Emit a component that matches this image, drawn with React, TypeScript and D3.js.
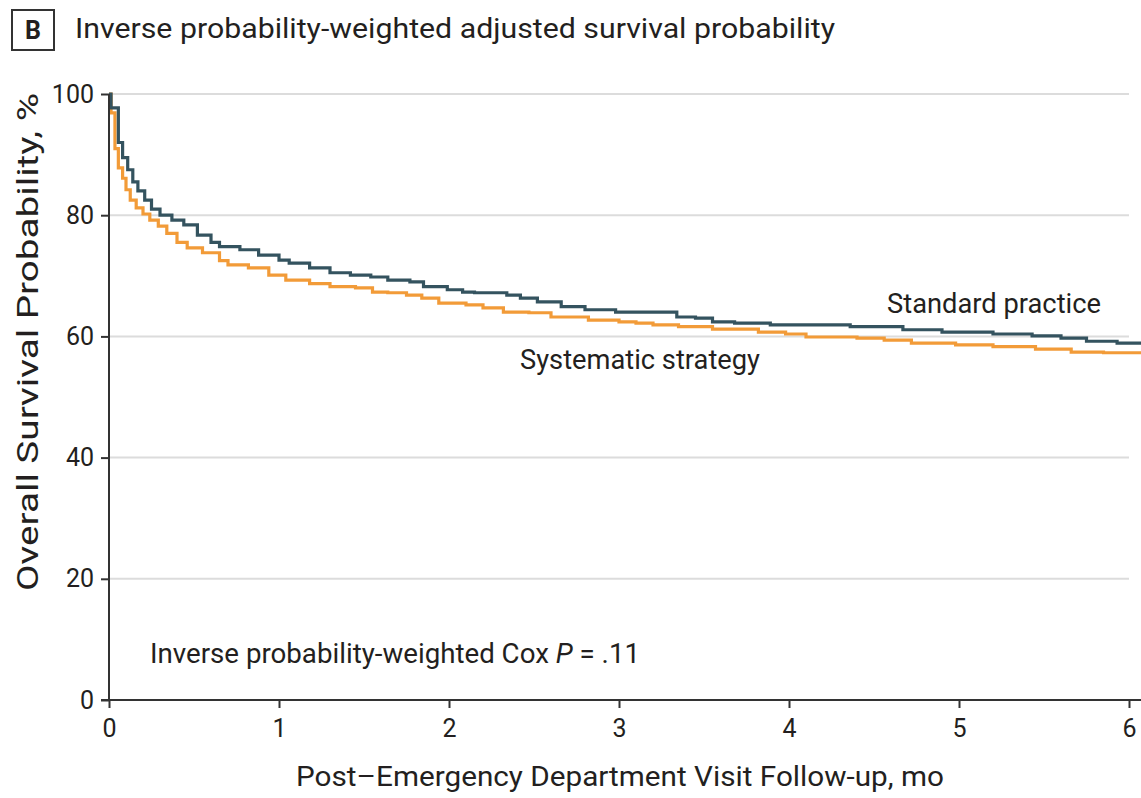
import * as d3 from "d3";
import React, { useEffect, useRef } from "react";

// 月数（追跡期間）と生存確率（%）
const standardTimes = [0, 0.012, 0.055, 0.08, 0.11, 0.14, 0.17, 0.21, 0.25, 0.3, 0.37, 0.44, 0.52, 0.6, 0.65, 0.77, 0.88, 1.0, 1.06, 1.18, 1.3, 1.42, 1.54, 1.64, 1.77, 1.85, 1.99, 2.08, 2.15, 2.34, 2.42, 2.52, 2.66, 2.8, 2.98, 3.34, 3.45, 3.55, 3.68, 3.89, 4.36, 4.67, 4.9, 5.2, 5.43, 5.6, 5.75, 5.93, 6.1];
const standardValues = [100, 97.7, 92, 89.5, 87.5, 85.5, 84, 82.5, 81, 80, 79.2, 78.4, 76.7, 75.5, 74.8, 74.3, 73.4, 72.6, 72.1, 71.3, 70.5, 70.1, 69.8, 69.3, 69, 68.2, 67.7, 67.3, 67.2, 66.8, 66.3, 65.7, 64.9, 64.4, 64, 63.2, 63, 62.4, 62.2, 61.9, 61.6, 61.1, 60.7, 60.4, 60.1, 59.7, 59.2, 58.9, 58.9];

const systematicTimes = [0, 0.012, 0.035, 0.055, 0.08, 0.1, 0.125, 0.16, 0.2, 0.24, 0.29, 0.34, 0.4, 0.46, 0.55, 0.65, 0.7, 0.82, 0.94, 1.04, 1.18, 1.3, 1.45, 1.55, 1.64, 1.75, 1.84, 1.94, 2.1, 2.2, 2.32, 2.47, 2.6, 2.82, 3.0, 3.1, 3.2, 3.35, 3.55, 3.82, 3.98, 4.1, 4.4, 4.56, 4.72, 4.98, 5.2, 5.45, 5.66, 5.85, 6.1];
const systematicValues = [100, 96.9, 91, 87.8, 86.1, 84.2, 82.5, 81.2, 80.2, 79.2, 78.2, 77, 75.5, 74.6, 73.8, 72.5, 71.8, 71.3, 70.1, 69.3, 68.7, 68.2, 68, 67.3, 67.2, 66.8, 66.3, 65.5, 65.2, 64.7, 64, 63.9, 63.2, 62.7, 62.4, 62.2, 61.9, 61.6, 61.2, 60.7, 60.4, 59.9, 59.7, 59.4, 58.9, 58.6, 58.3, 57.9, 57.4, 57.3, 57.2];

const xTicks = [0, 1, 2, 3, 4, 5, 6];
const yTicks = [0, 20, 40, 60, 80, 100];

const FONT = "Roboto, 'Noto Sans', sans-serif";
const TEXT_COLOR = "#231f20";

export default function App() {
  const svgRef = useRef<SVGSVGElement>(null);
  // 2重のレンダリングを防止
  const isRender = useRef(false);

  useEffect(() => {
    if (isRender.current || !svgRef.current) return;
    isRender.current = true;

    const width = 1141;
    const height = 798;
    const svg = d3.select(svgRef.current).attr("width", width).attr("height", height);

    const x = d3.scaleLinear().domain([0, 6]).range([109, 1129]);
    const y = d3.scaleLinear().domain([0, 100]).range([700, 94]);

    // グリッド線
    svg.append("g")
      .selectAll("line")
      .data(yTicks.filter((d) => d > 0))
      .enter()
      .append("line")
      .attr("x1", x(0))
      .attr("x2", x(6))
      .attr("y1", (d) => y(d))
      .attr("y2", (d) => y(d))
      .style("stroke", "#dcdcdc")
      .style("stroke-width", 2);

    // 生存曲線
    const line = d3.line<[number, number]>()
      .x((d) => x(d[0]))
      .y((d) => y(d[1]))
      .curve(d3.curveStepAfter);

    const series = [
      { times: systematicTimes, values: systematicValues, color: "#f29b38" },
      { times: standardTimes, values: standardValues, color: "#34535f" },
    ];
    series.forEach((s) => {
      const pts: [number, number][] = s.times.map((t, i) => [t, s.values[i]]);
      svg.append("path")
        .attr("d", line(pts))
        .style("fill", "none")
        .style("stroke", s.color)
        .style("stroke-width", 3.2);
    });

    // 軸
    const axisColor = "#333";
    const yAxis = svg.append("g").attr("transform", `translate(${x(0)},0)`)
      .call(d3.axisLeft(y).tickValues(yTicks).tickFormat(d3.format("d")).tickSize(8).tickSizeOuter(0).tickPadding(7));
    const xAxis = svg.append("g").attr("transform", `translate(0,${y(0)})`)
      .call(d3.axisBottom(x).tickValues(xTicks).tickFormat(d3.format("d")).tickSize(8).tickSizeOuter(0).tickPadding(11));
    [xAxis, yAxis].forEach((g) => {
      g.select(".domain").style("stroke", axisColor).style("stroke-width", 2);
      g.selectAll(".tick line").style("stroke", axisColor).style("stroke-width", 2);
      g.selectAll(".tick text")
        .style("font-family", FONT)
        .style("font-size", "25px")
        .style("fill", TEXT_COLOR);
    });
    // x軸は画像の右端まで伸ばす
    xAxis.select(".domain").attr("d", `M${x(0) - 8},0H${width}`);
    yAxis.select(".domain").attr("d", `M0,${y(100)}V${y(0)}`);

    // 軸タイトル
    svg.append("text")
      .attr("x", 620)
      .attr("y", 786)
      .attr("text-anchor", "middle")
      .attr("textLength", 648)
      .attr("lengthAdjust", "spacingAndGlyphs")
      .style("font-family", FONT)
      .style("font-size", "27px")
      .style("fill", TEXT_COLOR)
      .text("Post–Emergency Department Visit Follow-up, mo");

    svg.append("text")
      .attr("transform", "translate(38,342) rotate(-90)")
      .attr("text-anchor", "middle")
      .attr("textLength", 498)
      .attr("lengthAdjust", "spacingAndGlyphs")
      .style("font-family", FONT)
      .style("font-size", "29px")
      .style("fill", TEXT_COLOR)
      .text("Overall Survival Probability, %");

    // パネル見出し
    svg.append("rect")
      .attr("x", 12)
      .attr("y", 10)
      .attr("width", 42)
      .attr("height", 40)
      .style("fill", "none")
      .style("stroke", "#333")
      .style("stroke-width", 2);
    svg.append("text")
      .attr("x", 33)
      .attr("y", 39)
      .attr("text-anchor", "middle")
      .style("font-family", FONT)
      .style("font-weight", "bold")
      .style("font-size", "25px")
      .style("fill", TEXT_COLOR)
      .text("B");
    svg.append("text")
      .attr("x", 75)
      .attr("y", 38)
      .attr("textLength", 760)
      .attr("lengthAdjust", "spacingAndGlyphs")
      .style("font-family", FONT)
      .style("font-size", "28px")
      .style("fill", TEXT_COLOR)
      .text("Inverse probability-weighted adjusted survival probability");

    // 系列ラベル
    const labels = [
      { text: "Standard practice", x: 887, y: 313, len: 214 },
      { text: "Systematic strategy", x: 520, y: 369, len: 240 },
    ];
    labels.forEach((l) => {
      svg.append("text")
        .attr("x", l.x)
        .attr("y", l.y)
        .attr("textLength", l.len)
        .attr("lengthAdjust", "spacingAndGlyphs")
        .style("font-family", FONT)
        .style("font-size", "27px")
        .style("fill", TEXT_COLOR)
        .text(l.text);
    });

    // P値の注記
    const note = svg.append("text")
      .attr("x", 150)
      .attr("y", 663)
      .attr("textLength", 490)
      .attr("lengthAdjust", "spacingAndGlyphs")
      .style("font-family", FONT)
      .style("font-size", "27px")
      .style("fill", TEXT_COLOR);
    note.append("tspan").text("Inverse probability-weighted Cox ");
    note.append("tspan").style("font-style", "italic").text("P");
    note.append("tspan").text(" = .11");
  }, []);

  return (
    <div style={{ position: "absolute", left: 0, top: 0 }}>
      <svg ref={svgRef} style={{ display: "block", background: "#fff" }} />
    </div>
  );
}
